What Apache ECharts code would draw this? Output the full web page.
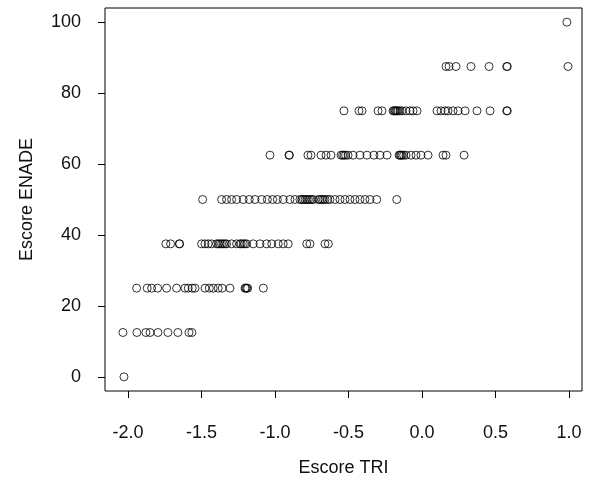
<!DOCTYPE html>
<html>
<head>
<meta charset="utf-8">
<script src="https://cdn.jsdelivr.net/npm/echarts@6/dist/echarts.min.js"></script>
<style>
html,body{margin:0;padding:0;background:#fff;}
#chart{width:593px;height:486px;}
</style>
</head>
<body>
<div id="chart"></div>
<script>
// Escore TRI values for each Escore ENADE level
const tri_0 = [-2.027];
const tri_12_5 = [-2.034, -1.939, -1.878, -1.850, -1.796, -1.728, -1.660, -1.585, -1.565];
const tri_25 = [-1.941, -1.869, -1.839, -1.798, -1.737, -1.669, -1.612, -1.590, -1.563, -1.544,
  -1.476, -1.447, -1.420, -1.386, -1.359, -1.306, -1.204, -1.198, -1.192, -1.186, -1.079];
const tri_37_5 = [-1.742, -1.710, -1.651, -1.648, -1.499, -1.476, -1.454, -1.431, -1.397, -1.385,
  -1.374, -1.363, -1.352, -1.340, -1.329, -1.295, -1.261, -1.238, -1.230, -1.216, -1.205, -1.193,
  -1.148, -1.102, -1.057, -1.022, -0.978, -0.944, -0.910, -0.784, -0.762, -0.660, -0.637];
const tri_50 = [-1.492, -1.363, -1.329, -1.295, -1.261, -1.216, -1.175, -1.136, -1.090, -1.052,
  -1.016, -0.984, -0.944, -0.898, -0.864, -0.830, -0.818, -0.807, -0.795, -0.784, -0.773, -0.762,
  -0.750, -0.739, -0.705, -0.694, -0.682, -0.671, -0.660, -0.643, -0.626, -0.592, -0.558, -0.524,
  -0.490, -0.456, -0.422, -0.388, -0.354, -0.308, -0.172];
const tri_62_5 = [-1.034, -0.905, -0.902, -0.776, -0.755, -0.687, -0.653, -0.619, -0.551, -0.540,
  -0.530, -0.520, -0.503, -0.469, -0.422, -0.374, -0.327, -0.286, -0.238, -0.156, -0.150, -0.143,
  -0.136, -0.125, -0.109, -0.075, -0.041, -0.007, 0.041, 0.143, 0.163, 0.286];
const tri_75 = [-0.531, -0.429, -0.408, -0.299, -0.272, -0.197, -0.190, -0.183, -0.177, -0.170,
  -0.163, -0.150, -0.136, -0.109, -0.082, -0.061, -0.034, 0.102, 0.129, 0.156, 0.177, 0.211,
  0.245, 0.293, 0.374, 0.463, 0.576, 0.580];
const tri_87_5 = [0.163, 0.184, 0.231, 0.333, 0.456, 0.576, 0.580, 0.993];
const tri_100 = [0.985];

const enadeLevels = [0, 12.5, 25, 37.5, 50, 62.5, 75, 87.5, 100];
const triRows = [tri_0, tri_12_5, tri_25, tri_37_5, tri_50, tri_62_5, tri_75, tri_87_5, tri_100];

const xTicks = [-2.0, -1.5, -1.0, -0.5, 0.0, 0.5, 1.0];
const yTicks = [0, 20, 40, 60, 80, 100];

const points = [];
triRows.forEach((row, i) => row.forEach(x => points.push([x, enadeLevels[i]])));

const font = 'Liberation Sans, Arial, sans-serif';
const chart = echarts.init(document.getElementById('chart'), null, {renderer: 'canvas'});
chart.setOption({
  backgroundColor: '#ffffff',
  animation: false,
  grid: {left: 105, right: 11, top: 8, bottom: 95, show: true, borderColor: '#000', borderWidth: 1, backgroundColor: 'transparent'},
  xAxis: {
    type: 'value', min: -2.156, max: 1.088, position: 'bottom',
    name: 'Escore TRI', nameLocation: 'middle', nameGap: 68,
    nameTextStyle: {fontFamily: font, fontSize: 18, color: '#111'},
    axisLine: {show: false, onZero: false},
    splitLine: {show: false},
    axisTick: {show: true, length: 7, inside: false, customValues: xTicks, lineStyle: {color: '#000', width: 1}},
    axisLabel: {customValues: xTicks, margin: 33, fontFamily: font, fontSize: 18, color: '#111',
      formatter: v => Number(v).toFixed(1)}
  },
  yAxis: {
    type: 'value', min: -4, max: 104, position: 'left',
    name: 'Escore ENADE', nameLocation: 'middle', nameGap: 69, nameRotate: 90,
    nameTextStyle: {fontFamily: font, fontSize: 18, color: '#111'},
    axisLine: {show: false, onZero: false},
    splitLine: {show: false},
    axisTick: {show: true, length: 7, inside: false, customValues: yTicks, lineStyle: {color: '#000', width: 1}},
    axisLabel: {customValues: yTicks, margin: 24, fontFamily: font, fontSize: 18, color: '#111',
      formatter: v => String(v)}
  },
  series: [{
    type: 'scatter',
    data: points,
    symbol: 'circle',
    symbolSize: 8,
    itemStyle: {color: 'transparent', borderColor: '#000', borderWidth: 1},
    emphasis: {disabled: true}
  }]
});
</script>
</body>
</html>
